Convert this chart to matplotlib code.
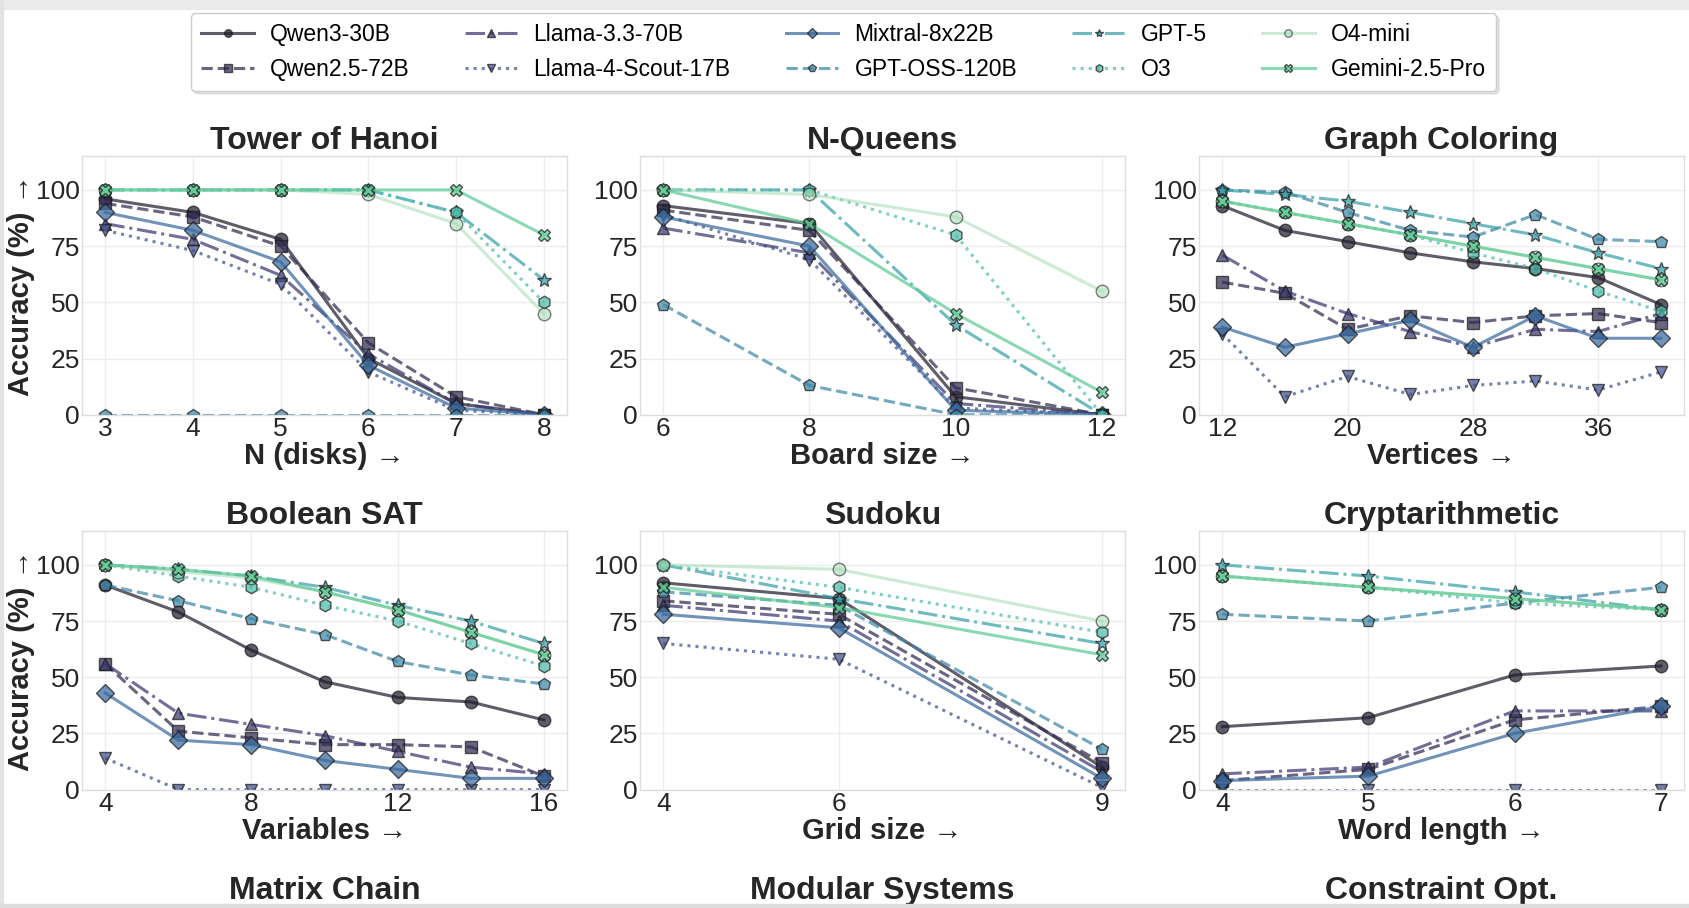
import numpy as np
import matplotlib
matplotlib.use("Agg")
import matplotlib.pyplot as plt
from matplotlib.patches import Rectangle

plt.rcParams['font.family'] = ['Liberation Sans', 'DejaVu Sans']

#### Models and styles
models = ["Qwen3-30B", "Qwen2.5-72B", "Llama-3.3-70B", "Llama-4-Scout-17B", "Mixtral-8x22B",
          "GPT-OSS-120B", "GPT-5", "O3", "O4-mini", "Gemini-2.5-Pro"]
colors = ["#221e2e", "#302b50", "#3b3870", "#41508e", "#3a6a9e",
          "#3e87a7", "#36a0a8", "#4dbdab", "#a3dcb5", "#5fcb95"]
styles = ["-", "--", "-.", ":", "-", "--", "-.", ":", "-", "-"]
markers = ["o", "s", "^", "v", "D", "p", "*", "h", "o", "X"]

#### Tower of Hanoi
hanoi_x = [3, 4, 5, 6, 7, 8]
hanoi = [
    [96, 90, 78, 25, 5, 0],
    [94, 88, 75, 32, 8, 0],
    [85, 78, 62, 27, 5, 0],
    [82, 73, 58, 19, 2, 0],
    [90, 82, 68, 22, 3, 0],
    [0, 0, 0, 0, 0, 0],
    [100, 100, 100, 100, 90, 60],
    [100, 100, 100, 100, 90, 50],
    [100, 100, 100, 98, 85, 45],
    [100, 100, 100, 100, 100, 80],
]

#### N-Queens
queens_x = [6, 8, 10, 12]
queens = [
    [93, 85, 8, 0],
    [91, 82, 12, 0],
    [83, 72, 5, 0],
    [89, 69, 3, 0],
    [88, 75, 2, 0],
    [49, 13, 0, 0],
    [100, 100, 40, 0],
    [100, 100, 80, 0],
    [100, 98, 88, 55],
    [100, 85, 45, 10],
]

#### Graph Coloring
graph_x = [12, 16, 20, 24, 28, 32, 36, 40]
graph = [
    [93, 82, 77, 72, 68, 65, 61, 49],
    [59, 54, 38, 44, 41, 44, 45, 41],
    [71, 55, 45, 37, 30, 38, 37, 45],
    [36, 8, 17, 9, 13, 15, 11, 19],
    [39, 30, 36, 42, 30, 44, 34, 34],
    [100, 99, 90, 82, 79, 89, 78, 77],
    [100, 98, 95, 90, 85, 80, 72, 65],
    [95, 90, 85, 80, 72, 65, 55, 46],
    [95, 90, 85, 80, 75, 70, 65, 60],
    [95, 90, 85, 80, 75, 70, 65, 60],
]

#### Boolean SAT
sat_x = [4, 6, 8, 10, 12, 14, 16]
sat = [
    [91, 79, 62, 48, 41, 39, 31],
    [56, 26, 23, 20, 20, 19, 6],
    [56, 34, 29, 24, 17, 10, 7],
    [14, 0, 0, 0, 0, 0, 0],
    [43, 22, 20, 13, 9, 5, 5],
    [91, 84, 76, 69, 57, 51, 47],
    [100, 98, 95, 90, 82, 75, 65],
    [100, 95, 90, 82, 75, 65, 55],
    [100, 97, 94, 88, 80, 70, 60],
    [100, 98, 95, 88, 80, 70, 60],
]

#### Sudoku
sudoku_x = [4, 6, 9]
sudoku = [
    [92, 85, 10],
    [84, 78, 12],
    [82, 75, 8],
    [65, 58, 1],
    [78, 72, 5],
    [88, 82, 18],
    [100, 85, 65],
    [100, 90, 70],
    [100, 98, 75],
    [90, 81, 60],
]

#### Cryptarithmetic
crypt_x = [4, 5, 6, 7]
crypt = [
    [28, 32, 51, 55],
    [4, 9, 31, 37],
    [7, 10, 35, 35],
    [0, 0, 0, 0],
    [4, 6, 25, 37],
    [78, 75, 83, 90],
    [100, 95, 88, 80],
    [95, 90, 83, 80],
    [95, 90, 85, 80],
    [95, 90, 85, 80],
]

panels = [
    ("Tower of Hanoi", "N (disks) →", hanoi_x, hanoi, [3, 4, 5, 6, 7, 8]),
    ("N-Queens", "Board size →", queens_x, queens, [6, 8, 10, 12]),
    ("Graph Coloring", "Vertices →", graph_x, graph, [12, 20, 28, 36]),
    ("Boolean SAT", "Variables →", sat_x, sat, [4, 8, 12, 16]),
    ("Sudoku", "Grid size →", sudoku_x, sudoku, [4, 6, 9]),
    ("Cryptarithmetic", "Word length →", crypt_x, crypt, [4, 5, 6, 7]),
]
cut_titles = ["Matrix Chain", "Modular Systems", "Constraint Opt."]

W, H = 1689, 908
fig = plt.figure(figsize=(W / 100, H / 100), dpi=100, facecolor="white")

def px_axes(left, top, w, h):
    return fig.add_axes([left / W, 1 - (top + h) / H, w / W, h / H])

col_left = [82, 640, 1199]
row_top = [156.2, 531.1, 906]
ax_w, ax_h = 485, 258.5

def style_axes(ax):
    ax.set_facecolor("white")
    for s in ax.spines.values():
        s.set_color("#dedede")
        s.set_linewidth(1)
    ax.grid(True, color="#ececec", linewidth=1)
    ax.set_axisbelow(True)
    ax.tick_params(length=0, labelsize=19, colors="#262626", pad=1.5)

handles = []
for i, (title, xlabel, xs, data, xticks) in enumerate(panels):
    ax = px_axes(col_left[i % 3], row_top[i // 3], ax_w, ax_h)
    style_axes(ax)
    for k in range(len(models)):
        a = 0.55 if models[k] == "O4-mini" else 0.72
        line, = ax.plot(xs, data[k], color=colors[k], linestyle=styles[k], marker=markers[k],
                        linewidth=2.2, markersize=9 if markers[k] != "*" else 10,
                        markeredgecolor="#1a1a1a", markeredgewidth=1, alpha=a, label=models[k])
        if i == 0:
            handles.append(line)
    ax.set_ylim(0, 115)
    ax.set_yticks([0, 25, 50, 75, 100])
    ax.set_xticks(xticks)
    span = xs[-1] - xs[0]
    ax.set_xlim(xs[0] - 0.053 * span, xs[-1] + 0.053 * span)
    ax.set_title(title, fontsize=23, fontweight="bold", color="#262626", pad=4)
    ax.set_xlabel(xlabel, fontsize=21, fontweight="bold", color="#262626", labelpad=1)
    if i % 3 == 0:
        ax.set_ylabel("Accuracy (%) →", fontsize=21, fontweight="bold", color="#262626", labelpad=1)

# third row is cut off by the page, only the titles show
for j, t in enumerate(cut_titles):
    ax = px_axes(col_left[j], row_top[2], ax_w, ax_h)
    style_axes(ax)
    ax.set_xticks([])
    ax.set_yticks([])
    ax.set_title(t, fontsize=23, fontweight="bold", color="#262626", pad=4)

fig.legend(handles=handles, loc="upper center", bbox_to_anchor=(0.4995, 1 - 13 / H), ncol=5,
           fontsize=16.5, markerscale=0.6, handlelength=2.3, handletextpad=0.7, columnspacing=2.4,
           frameon=True, fancybox=True, edgecolor="#cccccc", borderpad=0.45, labelspacing=0.5,
           borderaxespad=0, shadow={"color": "#c8c8c8", "alpha": 0.5})

# grey border of the screenshot
fig.add_artist(Rectangle((0, 1 - 9 / H), 1, 9 / H, transform=fig.transFigure, color="#ebebeb", zorder=-1))
fig.add_artist(Rectangle((0, 0), 3 / W, 1, transform=fig.transFigure, color="#e3e3e3", zorder=-1))
fig.add_artist(Rectangle((0, 0), 1, 4 / H, transform=fig.transFigure, color="#dcdcdc", zorder=10))

fig.savefig("out.png", dpi=100, facecolor=fig.get_facecolor())
